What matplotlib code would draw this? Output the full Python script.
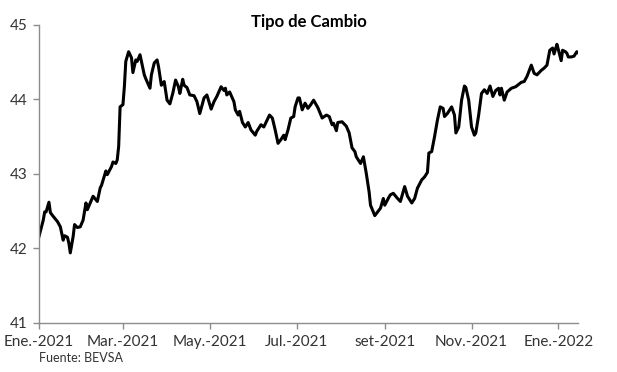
import numpy as np
import pandas as pd
import matplotlib
matplotlib.use('Agg')
import matplotlib.pyplot as plt
import matplotlib.dates as mdates

# Datos: días desde el 01/01/2021 y tipo de cambio
inicio = '2021-01-01'
dias = [0, 3, 4, 5, 7, 8, 10, 13, 15, 17, 18, 20, 21, 22, 24, 25, 27, 29, 31, 33,
        34, 38, 41, 43, 44, 47, 48, 51, 52, 54, 55, 56, 57, 59, 60, 61, 63, 65, 66, 68,
        69, 71, 74, 75, 78, 79, 81, 83, 84, 86, 88, 90, 92, 94, 96, 98, 99, 101, 102, 104,
        106, 109, 111, 113, 116, 118, 121, 123, 125, 128, 130, 131, 132, 134, 137, 138, 140, 141, 143, 145,
        147, 149, 152, 153, 156, 158, 162, 164, 166, 168, 170, 172, 173, 175, 177, 179, 180, 182, 183, 185,
        187, 189, 191, 193, 196, 199, 202, 204, 206, 207, 209, 210, 213, 216, 218, 220, 222, 223, 226, 228,
        230, 232, 233, 236, 238, 240, 242, 243, 246, 247, 249, 252, 254, 257, 259, 262, 264, 266, 269, 271,
        273, 274, 276, 278, 280, 282, 284, 285, 287, 290, 292, 293, 295, 297, 299, 300, 302, 304, 306, 307,
        309, 311, 313, 315, 317, 319, 321, 323, 324, 325, 327, 329, 332, 335, 339, 341, 343, 346, 348, 350,
        353, 355, 357, 359, 361, 362, 364, 365, 367, 368, 370, 371, 372, 374, 376, 378, 380]
tipo_cambio = [42.16, 42.38, 42.49, 42.49, 42.62, 42.48, 42.43, 42.36, 42.29, 42.11,
               42.17, 42.15, 42.07, 41.94, 42.16, 42.32, 42.28, 42.29, 42.38, 42.61,
               42.52, 42.70, 42.63, 42.81, 42.85, 43.04, 42.99, 43.10, 43.16, 43.14,
               43.19, 43.37, 43.90, 43.93, 44.17, 44.51, 44.64, 44.56, 44.36, 44.53,
               44.51, 44.60, 44.33, 44.28, 44.15, 44.33, 44.49, 44.53, 44.44, 44.19,
               44.24, 43.99, 43.94, 44.08, 44.26, 44.17, 44.08, 44.27, 44.19, 44.16,
               44.06, 44.05, 43.97, 43.81, 44.02, 44.06, 43.87, 43.97, 44.04, 44.17,
               44.12, 44.15, 44.06, 44.10, 43.97, 43.86, 43.79, 43.84, 43.69, 43.63,
               43.69, 43.59, 43.52, 43.57, 43.66, 43.63, 43.79, 43.75, 43.59, 43.41,
               43.46, 43.52, 43.46, 43.59, 43.75, 43.77, 43.90, 44.02, 44.02, 43.86,
               43.95, 43.88, 43.93, 43.99, 43.89, 43.75, 43.79, 43.77, 43.66, 43.68,
               43.58, 43.69, 43.70, 43.64, 43.55, 43.35, 43.30, 43.23, 43.14, 43.23,
               43.01, 42.76, 42.58, 42.44, 42.49, 42.54, 42.67, 42.58, 42.69, 42.72,
               42.74, 42.67, 42.63, 42.83, 42.70, 42.61, 42.67, 42.81, 42.92, 42.96,
               43.02, 43.28, 43.30, 43.50, 43.72, 43.90, 43.88, 43.77, 43.81, 43.90,
               43.79, 43.55, 43.63, 43.99, 44.18, 44.16, 43.99, 43.63, 43.52, 43.55,
               43.79, 44.08, 44.13, 44.08, 44.18, 44.04, 44.12, 44.15, 44.06, 44.15,
               43.99, 44.10, 44.15, 44.17, 44.23, 44.24, 44.31, 44.46, 44.35, 44.33,
               44.39, 44.42, 44.46, 44.66, 44.69, 44.61, 44.74, 44.67, 44.52, 44.66,
               44.64, 44.62, 44.57, 44.57, 44.58, 44.64, 44.61]

ticks = ['2021-01-01', '2021-03-01', '2021-05-01', '2021-07-01',
         '2021-09-01', '2021-11-01', '2022-01-01']
etiquetas = ['Ene.-2021', 'Mar.-2021', 'May.-2021', 'Jul.-2021',
             'set-2021', 'Nov.-2021', 'Ene.-2022']

fechas = pd.Timestamp(inicio) + pd.to_timedelta(dias, unit='D')

plt.rcParams['font.family'] = ['Lato', 'DejaVu Sans']

fig = plt.figure(figsize=(6.17, 3.72), dpi=100)
ax = fig.add_axes([0.0632, 0.132, 0.874, 0.801])

ax.plot(fechas, tipo_cambio, color='black', linewidth=2.2)

ax.set_ylim(41, 45)
ax.set_yticks([41, 42, 43, 44, 45])
ax.set_xlim(pd.Timestamp('2021-01-01'), pd.Timestamp('2022-01-15'))
ax.set_xticks(pd.to_datetime(ticks))
ax.set_xticklabels(etiquetas)

for lado in ['top', 'right']:
    ax.spines[lado].set_visible(False)
for lado in ['left', 'bottom']:
    ax.spines[lado].set_color('#8c8c8c')
    ax.spines[lado].set_linewidth(1.0)

ax.tick_params(axis='both', colors='#8c8c8c', length=4, width=1.0,
               labelsize=11, labelcolor='#333333')
ax.tick_params(axis='x', pad=5)
ax.tick_params(axis='y', pad=4)

fig.text(0.5, 0.94, 'Tipo de Cambio', ha='center', va='center',
         fontsize=12, fontweight='bold', color='black')
fig.text(0.063, 0.038, 'Fuente: BEVSA', ha='left', va='center',
         fontsize=9, color='#333333')

fig.savefig('out.png', dpi=100)
